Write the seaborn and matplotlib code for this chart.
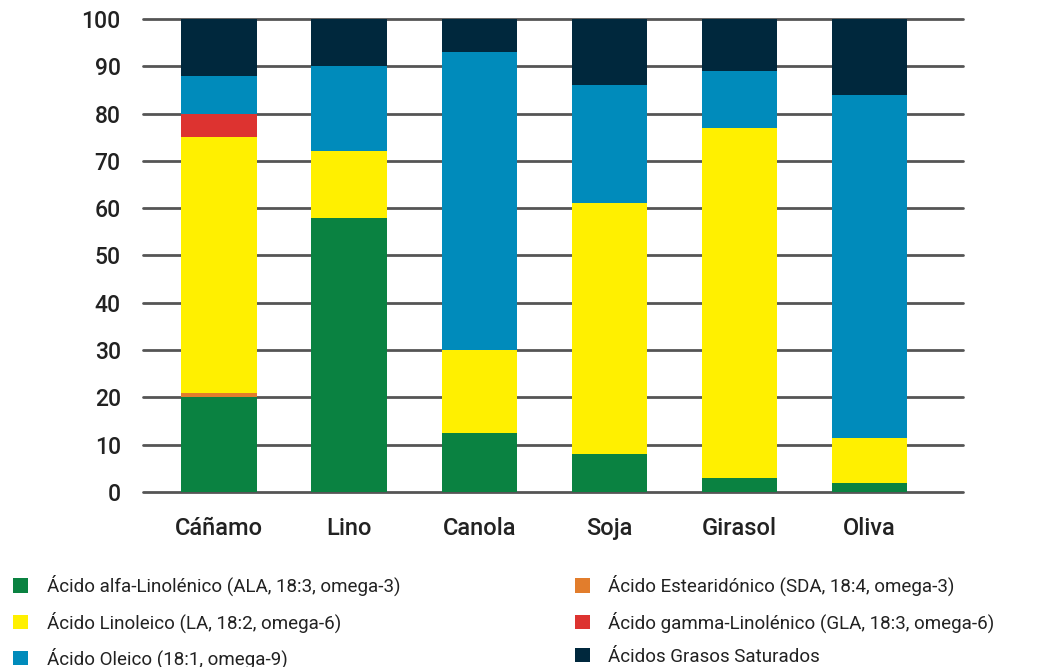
import numpy as np
import pandas as pd
import matplotlib
matplotlib.use("Agg")
import matplotlib.pyplot as plt
import seaborn as sns
from matplotlib.patches import Patch

# --- data (percent of total fatty acids) ---
aceites = ["Cáñamo", "Lino", "Canola", "Soja", "Girasol", "Oliva"]
ala = [20, 58, 12.5, 8, 3, 2]
sda = [1, 0, 0, 0, 0, 0]
la = [54, 14, 17.5, 53, 74, 9.5]
gla = [5, 0, 0, 0, 0, 0]
oleico = [8, 18, 63, 25, 12, 72.5]
saturados = [12, 10, 7, 14, 11, 16]

componentes = [
    ("Ácido alfa-Linolénico (ALA, 18:3, omega-3)", ala, "#0a8241"),
    ("Ácido Estearidónico (SDA, 18:4, omega-3)", sda, "#e27d2c"),
    ("Ácido Linoleico (LA, 18:2, omega-6)", la, "#fff000"),
    ("Ácido gamma-Linolénico (GLA, 18:3, omega-6)", gla, "#dd3330"),
    ("Ácido Oleico (18:1, omega-9)", oleico, "#008bbb"),
    ("Ácidos Grasos Saturados", saturados, "#00283d"),
]

sns.set_style("white")
plt.rcParams["font.family"] = ["Roboto", "DejaVu Sans"]

fig = plt.figure(figsize=(10.54, 6.67), dpi=100)
ax = fig.add_axes([0.1357, 0.2624, 0.778, 0.7091])

df = pd.DataFrame({"aceite": aceites})
bottom = np.zeros(len(aceites))
for nombre, vals, color in componentes:
    df["valor"] = vals
    sns.barplot(data=df, x="aceite", y="valor", bottom=bottom, color=color,
                saturation=1, width=0.58, linewidth=0, ax=ax, zorder=3)
    bottom = bottom + np.array(vals)

ax.set_ylim(0, 100)
ax.set_xlim(-0.585, 5.72)
ax.set_yticks(range(0, 101, 10))
for v in range(0, 101, 10):
    ax.axhline(v, color="#555555", lw=2, zorder=1, clip_on=False)
for s in ax.spines.values():
    s.set_visible(False)
ax.set_xlabel("")
ax.set_ylabel("")
ax.tick_params(axis="y", length=0, pad=16, labelsize=16.5, labelcolor="#222222")
ax.tick_params(axis="x", length=0, pad=18, labelsize=17, labelcolor="#222222")
for t in ax.get_yticklabels() + ax.get_xticklabels():
    t.set_fontweight("medium")

# legend in two columns
handles = [Patch(facecolor=c, edgecolor="none", label=n) for n, _, c in componentes]
izq = [handles[0], handles[2], handles[4]]
der = [handles[1], handles[3], handles[5]]
for hs, x0 in ((izq, 0.005), (der, 0.538)):
    fig.legend(handles=hs, loc="upper left", bbox_to_anchor=(x0, 0.149),
               frameon=False, fontsize=13.5, handlelength=0.8, handleheight=0.8,
               handletextpad=1.0, labelspacing=0.8, borderaxespad=0,
               labelcolor="#222222")

fig.savefig("out.png", dpi=100)
